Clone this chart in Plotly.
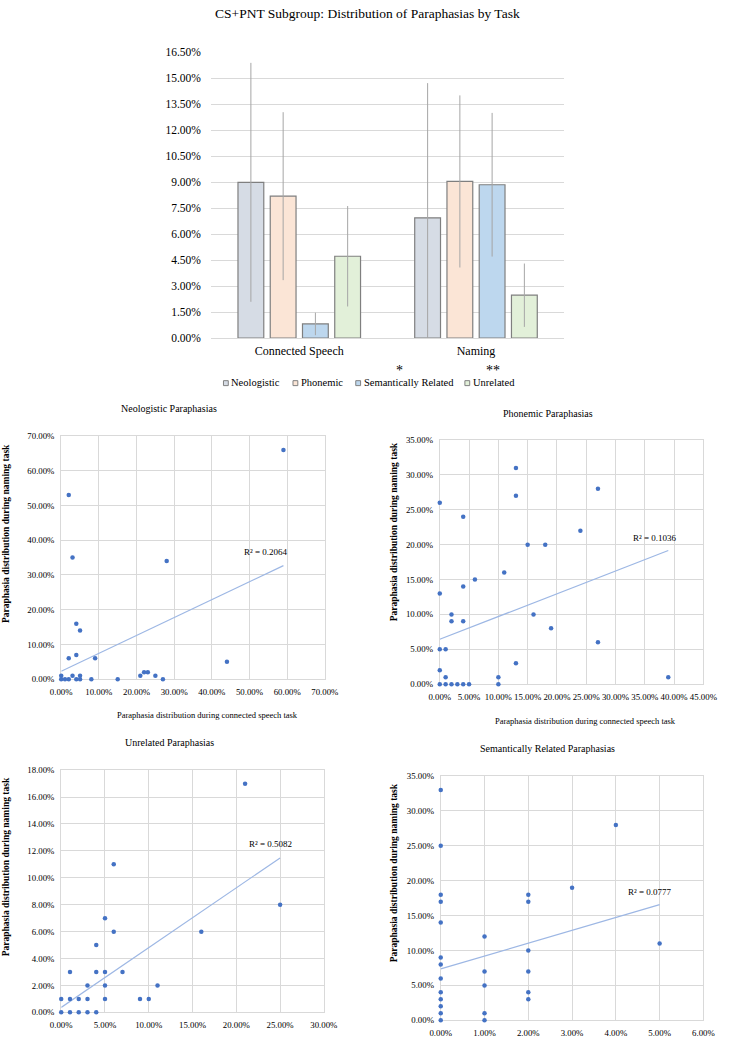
import plotly.graph_objects as go

W, H = 729, 1050
SERIF = "Liberation Serif"

# ---------------- Bar chart data (percent) ----------------
tasks = ["Connected Speech", "Naming"]
series_names = ["Neologistic", "Phonemic", "Semantically Related", "Unrelated"]
neo_mean = [9.00, 6.95]
pho_mean = [8.20, 9.05]
sem_mean = [0.82, 8.86]
unr_mean = [4.73, 2.48]
neo_err = [6.90, 7.78]
pho_err = [4.85, 4.97]
sem_err = [0.65, 4.15]
unr_err = [2.90, 1.83]
bar_colors = ["#d6dce5", "#fbe5d6", "#bdd7ee", "#e2f0d9"]
sig_marks = ["", "", "*", "**"]

# ---------------- Scatter data (percent) ----------------
neo_cs = [59, 2, 3, 28, 4, 5, 4, 2, 9, 44, 0, 0, 1, 2, 3, 4, 5, 5, 8, 15, 21, 22, 23, 25, 27]
neo_naming = [66, 53, 35, 34, 16, 14, 7, 6, 6, 5, 1, 0, 0, 0, 1, 0, 1, 0, 0, 0, 1, 2, 2, 1, 0]
neo_trend_x = [0, 59]
neo_trend_y = [2.3, 32.7]
neo_r2 = "R² = 0.2064"

pho_cs = [13, 27, 13, 0, 4, 24, 15, 18, 11, 6, 4, 0, 2, 16, 2, 4, 19, 27, 0, 1, 13, 0, 1, 10, 39,
          0, 1, 2, 3, 4, 5, 10]
pho_naming = [31, 28, 27, 26, 24, 22, 20, 20, 16, 15, 14, 13, 10, 10, 9, 9, 8, 6, 5, 5, 3, 2, 1, 1, 1,
              0, 0, 0, 0, 0, 0, 0]
pho_trend_x = [0, 39]
pho_trend_y = [6.43, 19.16]
pho_r2 = "R² = 0.1036"

unr_cs = [21, 6, 25, 5, 6, 16, 4, 1, 4, 5, 7, 3, 5, 11, 0, 1, 2, 3, 5, 9, 10, 0, 1, 2, 3, 4]
unr_naming = [17, 11, 8, 7, 6, 6, 5, 3, 3, 3, 3, 2, 2, 2, 1, 1, 1, 1, 1, 1, 1, 0, 0, 0, 0, 0]
unr_trend_x = [0, 25]
unr_trend_y = [0.37, 11.48]
unr_r2 = "R² = 0.5082"

sem_cs = [0, 0, 0, 0, 0, 0, 0, 0, 0, 0, 0, 0, 0, 1, 1, 1, 1, 1, 2, 2, 2, 2, 2, 2, 3, 4, 5]
sem_naming = [33, 25, 18, 17, 14, 9, 8, 6, 4, 3, 2, 1, 0, 12, 7, 5, 1, 0, 18, 17, 10, 7, 4, 3, 19, 28, 11]
sem_trend_x = [0, 5]
sem_trend_y = [7.37, 16.58]
sem_r2 = "R² = 0.0777"

panel_titles = ["Neologistic Paraphasias", "Phonemic Paraphasias",
                "Unrelated Paraphasias", "Semantically Related Paraphasias"]
x_title = "Paraphasia distribution during connected speech task"
y_title = "Paraphasia distribution during naming task"
main_title = "CS+PNT Subgroup: Distribution of Paraphasias by Task"


def px(x):
    return x / W


def py(y):
    return 1 - y / H


fig = go.Figure()

# ---------------- Bars ----------------
for name, m, e, c in zip(series_names,
                         [neo_mean, pho_mean, sem_mean, unr_mean],
                         [neo_err, pho_err, sem_err, unr_err],
                         bar_colors):
    fig.add_trace(go.Bar(
        x=tasks, y=m, name=name, xaxis="x", yaxis="y",
        marker=dict(color=c, line=dict(color="#7f7f7f", width=1.2)),
        error_y=dict(type="data", array=e, visible=True, color="#a6a6a6",
                     thickness=1, width=0),
        showlegend=False,
    ))

# ---------------- Scatter panels ----------------
GRID = "#d9d9d9"
MARK = "#4472c4"
TREND = "#9db7e4"
panels = [
    (neo_cs, neo_naming, neo_trend_x, neo_trend_y, "2"),
    (pho_cs, pho_naming, pho_trend_x, pho_trend_y, "3"),
    (unr_cs, unr_naming, unr_trend_x, unr_trend_y, "4"),
    (sem_cs, sem_naming, sem_trend_x, sem_trend_y, "5"),
]
for xs, ys, tx, ty, k in panels:
    fig.add_trace(go.Scatter(x=tx, y=ty, mode="lines", xaxis="x" + k, yaxis="y" + k,
                             line=dict(color=TREND, width=1.2), showlegend=False))
    fig.add_trace(go.Scatter(x=xs, y=ys, mode="markers", xaxis="x" + k, yaxis="y" + k,
                             marker=dict(color=MARK, size=4.5, line=dict(width=0)),
                             cliponaxis=False, showlegend=False))

tickfont_s = dict(family=SERIF, size=8.8, color="#000")


def sc_axis(rng, dtick, dom, anchor, is_x):
    d = dict(range=rng, dtick=dtick, tick0=0, domain=dom, anchor=anchor,
             tickformat=".2f", ticksuffix="%", showgrid=True, gridcolor=GRID,
             gridwidth=1, showline=True, linecolor=GRID, linewidth=1, mirror=True,
             zeroline=False, ticks="", tickfont=tickfont_s, fixedrange=True,
             layer="below traces", ticklabelstandoff=4)
    if is_x:
        d["tickangle"] = 0
    return d


layout = dict(
    width=W, height=H, margin=dict(l=0, r=0, t=0, b=0),
    paper_bgcolor="white", plot_bgcolor="white",
    barmode="group", bargap=0.27, bargroupgap=0.2,
    font=dict(family=SERIF, color="#000"),
    xaxis=dict(domain=[px(207), px(573)], anchor="y", showgrid=False, showline=True,
               linecolor=GRID, ticks="", tickfont=dict(family=SERIF, size=12, color="#000"),
               ticklabelstandoff=1, fixedrange=True),
    yaxis=dict(domain=[py(336), py(47)], anchor="x", range=[0, 16.5], dtick=1.5, tick0=0,
               tickformat=".2f", ticksuffix="%", showgrid=True, gridcolor=GRID,
               zeroline=True, zerolinecolor=GRID, zerolinewidth=1, ticks="",
               tickfont=dict(family=SERIF, size=11.5, color="#000"), ticklabelstandoff=9,
               fixedrange=True),
    xaxis2=sc_axis([0, 70], 10, [px(52), px(325)], "y2", True),
    yaxis2=sc_axis([0, 70], 10, [py(681), py(435)], "x2", False),
    xaxis3=sc_axis([0, 45], 5, [px(444), px(717)], "y3", True),
    yaxis3=sc_axis([0, 35], 5, [py(686), py(439)], "x3", False),
    xaxis4=sc_axis([0, 30], 5, [px(52), px(324)], "y4", True),
    yaxis4=sc_axis([0, 18], 2, [py(1018), py(773)], "x4", False),
    xaxis5=sc_axis([0, 6], 1, [px(445), px(717)], "y5", True),
    yaxis5=sc_axis([0, 35], 5, [py(1026), py(779)], "x5", False),
)

annotations = []
shapes = []


def ann(text, x, y, size, bold=False, angle=0, xanchor="center", yanchor="middle"):
    annotations.append(dict(
        text=("<b>%s</b>" % text) if bold else text, x=px(x), y=py(y), xref="paper",
        yref="paper", xanchor=xanchor, yanchor=yanchor, showarrow=False, textangle=angle,
        borderpad=0, font=dict(family=SERIF, size=size, color="#000")))


# main title
ann(main_title, 369, 8, 13.5)
# panel titles
for t, (x, y) in zip(panel_titles, [(164, 407), (556, 412), (164, 745), (556, 751)]):
    ann(t, x, y, 10)
# y titles
for (x, y) in [(-5, 534), (397, 532), (-5, 871), (397, 877)]:
    ann(y_title, x, y, 9.5, bold=True, angle=-90)
# x titles (top row only visible)
for (x, y) in [(203, 717), (595, 723)]:
    ann(x_title, x, y, 8.5)
# R² labels
for t, (x, y) in zip([neo_r2, pho_r2, unr_r2, sem_r2],
                     [(264, 552), (667, 538), (269, 848), (662, 896)]):
    ann(t, x, y, 9)

# manual legend for bar chart
leg_x = [220, 292, 357, 470]
for name, c, lx in zip(series_names, bar_colors, leg_x):
    shapes.append(dict(type="rect", xref="paper", yref="paper",
                       x0=px(lx), x1=px(lx + 5), y0=py(384), y1=py(379),
                       fillcolor=c, line=dict(color="#808080", width=1)))
    ann(name, lx + 7, 381, 10.5, xanchor="left")
ann(sig_marks[2], 402, 377, 14, yanchor="bottom")
ann(sig_marks[3], 499, 377, 14, yanchor="bottom")

layout["annotations"] = annotations
layout["shapes"] = shapes
fig.update_layout(**layout)

fig.write_html("out.html", config={"displayModeBar": False},
               post_script="document.body.style.margin='0';document.body.style.overflow='hidden';")
